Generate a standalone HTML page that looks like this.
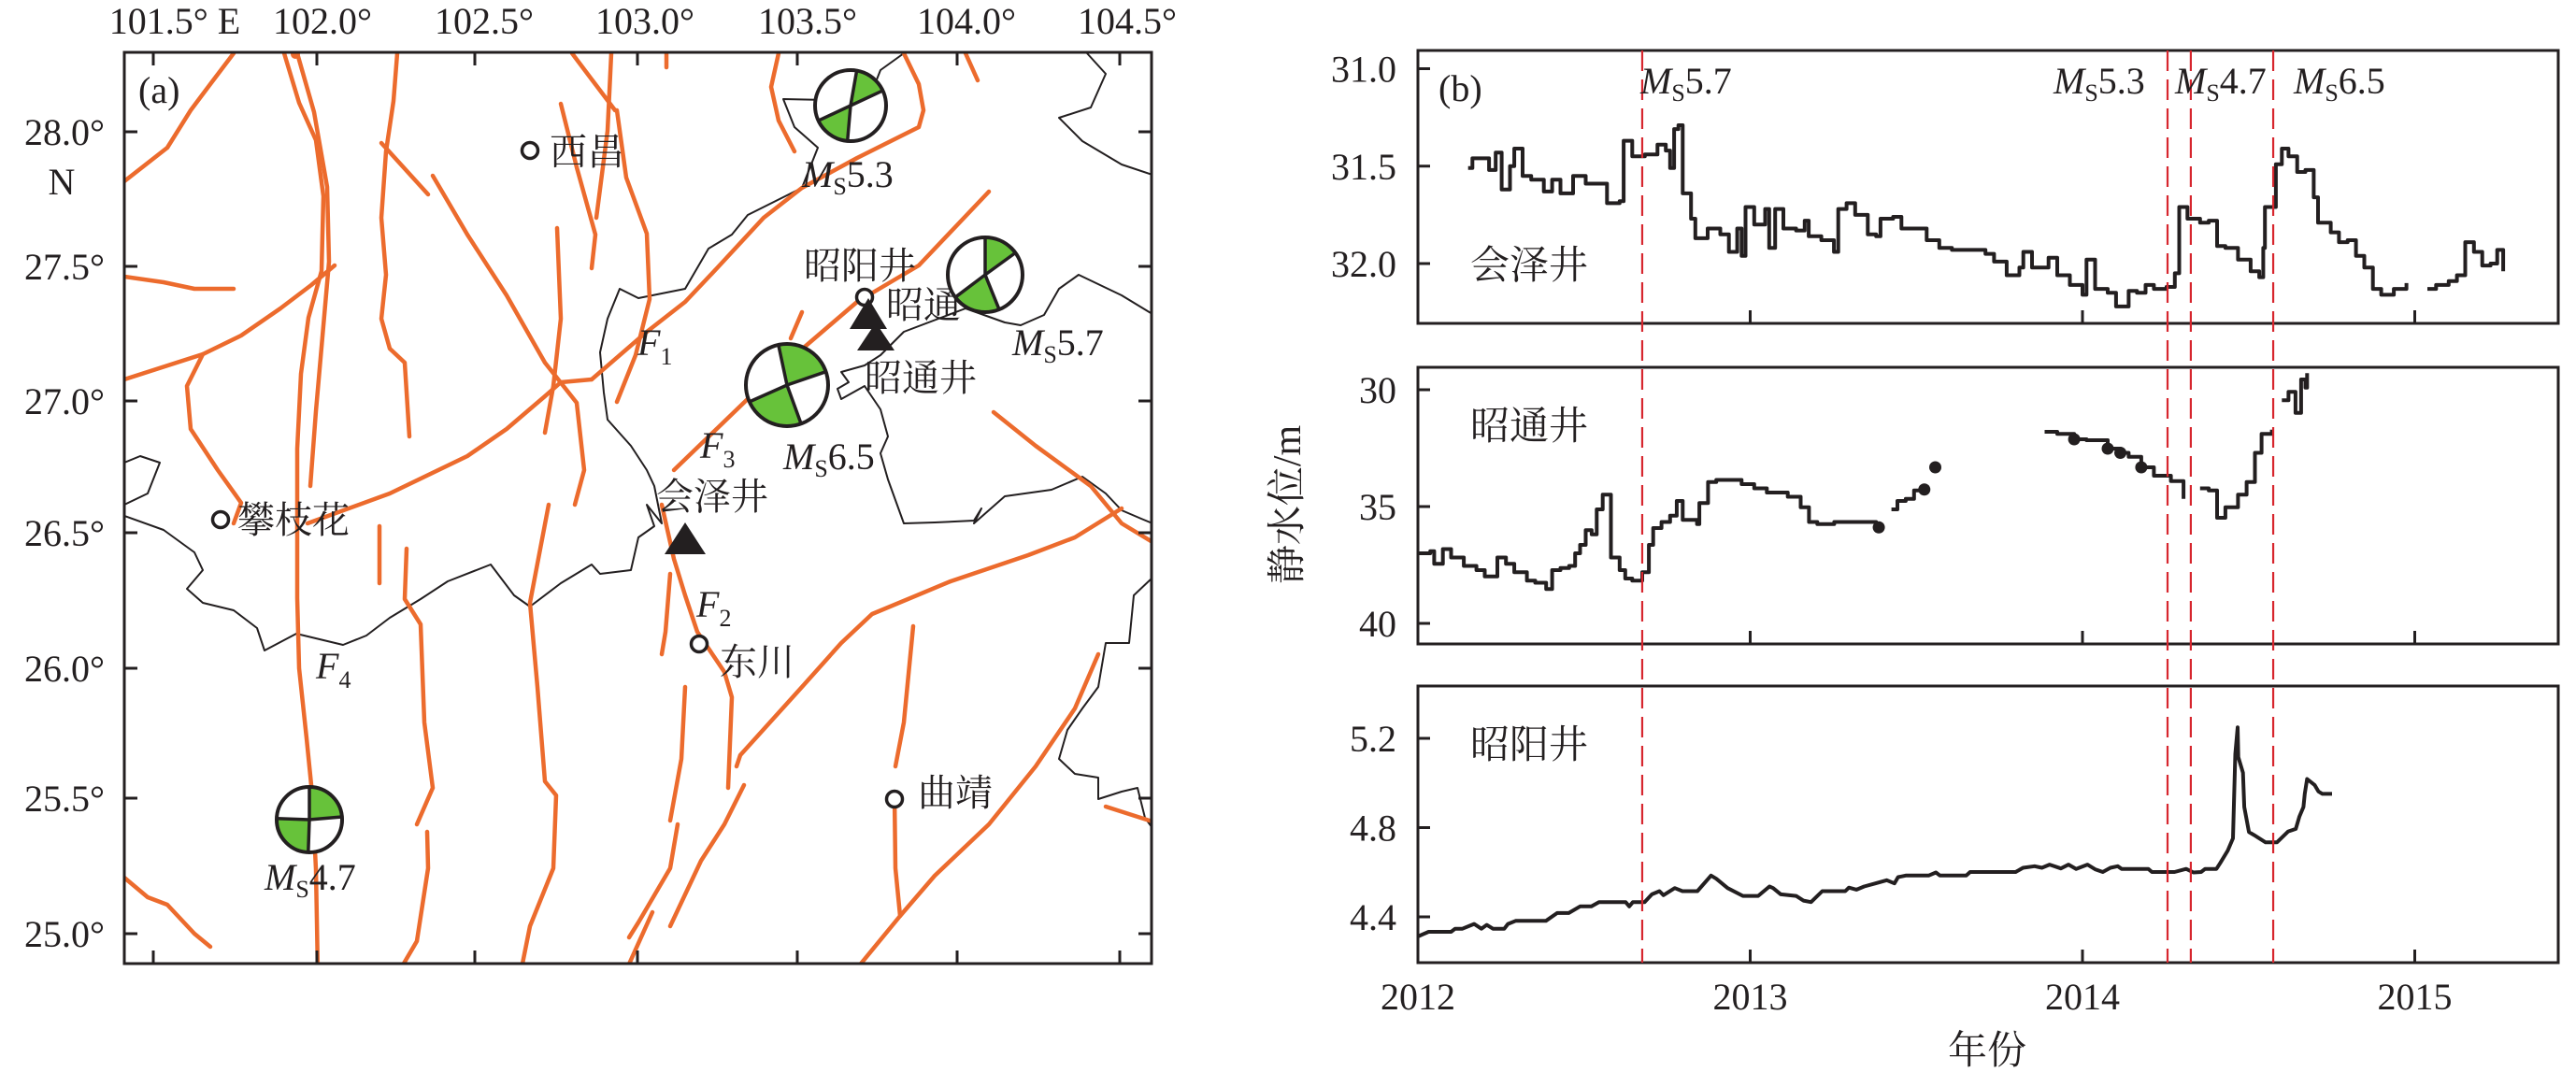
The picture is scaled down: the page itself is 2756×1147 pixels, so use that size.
<!DOCTYPE html>
<html><head><meta charset="utf-8"><style>
html,body{margin:0;padding:0;background:#fff;}
svg{display:block;}
text{font-family:"Liberation Serif","Noto Serif CJK SC",serif;fill:#231f20;}
</style></head><body>
<svg id="fig" width="2756" height="1147" viewBox="0 0 2756 1147" xmlns="http://www.w3.org/2000/svg">
<g id="map"></g>
<g id="chart"></g>
</svg>
<script>
// ===== Panel (b) data =====
const yearTicks = [2012, 2013, 2014, 2015];
const eventYears = [2012.675, 2014.256, 2014.326, 2014.574];
const eventLabels = ["5.7", "5.3", "4.7", "6.5"];
const huizeTicks = [31.0, 31.5, 32.0];
const zhaotongTicks = [30, 35, 40];
const zhaoyangTicks = [5.2, 4.8, 4.4];
// [year offset from 2012, value]; null = gap
const huizeData = [[.151,31.51],[.164,31.46],[.201,31.46],[.214,31.52],[.234,31.43],[.252,31.62],[.277,31.50],[.290,31.41],[.315,31.55],[.341,31.57],[.379,31.63],[.404,31.57],[.429,31.64],[.467,31.55],[.505,31.59],[.543,31.59],[.569,31.69],[.607,31.68],[.619,31.37],[.645,31.45],[.683,31.44],[.721,31.39],[.746,31.42],[.759,31.51],[.771,31.31],[.784,31.29],[.797,31.64],[.822,31.77],[.835,31.87],[.872,31.82],[.910,31.85],[.936,31.94],[.961,31.82],[.974,31.96],[.986,31.71],[1.012,31.80],[1.045,31.72],[1.057,31.92],[1.075,31.72],[1.100,31.82],[1.138,31.83],[1.164,31.78],[1.176,31.86],[1.214,31.88],[1.252,31.94],[1.265,31.72],[1.290,31.69],[1.316,31.75],[1.354,31.85],[1.379,31.86],[1.392,31.77],[1.430,31.76],[1.455,31.82],[1.493,31.82],[1.531,31.88],[1.569,31.92],[1.607,31.93],[1.658,31.93],[1.708,31.95],[1.734,31.99],[1.772,32.06],[1.810,32.02],[1.822,31.94],[1.848,32.02],[1.873,32.02],[1.898,31.97],[1.924,32.06],[1.962,32.11],[2.000,32.16],[2.012,31.98],[2.038,32.13],[2.076,32.15],[2.101,32.22],[2.139,32.14],[2.164,32.15],[2.190,32.11],[2.215,32.13],[2.253,32.12],[2.278,32.05],[2.291,31.71],[2.316,31.77],[2.354,31.79],[2.380,31.78],[2.405,31.91],[2.430,31.92],[2.468,31.98],[2.506,32.04],[2.532,32.07],[2.544,31.92],[2.549,31.71],[2.570,31.71],[2.582,31.49],[2.600,31.41],[2.620,31.45],[2.646,31.53],[2.671,31.52],[2.696,31.66],[2.709,31.79],[2.747,31.84],[2.772,31.89],[2.798,31.88],[2.823,31.96],[2.848,32.02],[2.874,32.13],[2.899,32.16],[2.937,32.13],[2.975,32.10],null,[3.038,32.13],[3.064,32.11],[3.102,32.09],[3.127,32.06],[3.152,31.89],[3.178,31.94],[3.203,32.01],[3.228,32.00],[3.248,31.93],[3.266,32.04]];
const zhaotongData = [[0,37.00],[.037,36.91],[.049,37.45],[.075,36.82],[.100,37.18],[.138,37.54],[.176,37.72],[.201,37.99],[.239,37.18],[.265,37.45],[.290,37.81],[.328,38.17],[.353,38.26],[.386,38.53],[.404,37.72],[.429,37.63],[.455,37.54],[.473,37.00],[.488,36.64],[.505,36.01],[.523,36.19],[.538,35.12],[.556,34.49],[.574,34.49],[.581,37.18],[.607,37.72],[.624,38.08],[.645,38.17],[.675,37.81],[.695,36.64],[.708,35.92],[.733,35.66],[.759,35.39],[.779,34.76],[.797,35.57],[.822,35.57],[.840,35.75],[.847,34.85],[.873,33.95],[.898,33.86],[.936,33.86],[.974,34.04],[1.012,34.22],[1.050,34.40],[1.113,34.58],[1.152,35.03],[1.177,35.66],[1.202,35.75],[1.253,35.66],[1.303,35.66],[1.354,35.66],[1.379,35.83],[1.387,35.89],null,[1.425,35.12],[1.443,34.76],[1.468,34.67],[1.493,34.31],[1.524,34.27],null,[1.886,31.80],[1.924,31.89],[1.975,32.12],[2.012,32.16],[2.076,32.52],[2.114,32.70],[2.139,32.87],[2.177,33.32],[2.215,33.68],[2.266,33.91],[2.304,34.67],null,[2.354,34.22],[2.380,34.31],[2.405,35.48],[2.430,35.03],[2.468,34.49],[2.494,33.95],[2.519,32.70],[2.539,31.89],[2.570,31.71],null,[2.600,30.45],[2.620,30.09],[2.641,30.99],[2.658,29.56],[2.671,29.91],[2.676,29.29]];
const zhaotongDots = [[1.387,35.89],[1.524,34.27],[1.557,33.32],[1.975,32.12],[2.076,32.52],[2.114,32.70],[2.177,33.32]];
const zhaoyangData = [[0,4.312],[.032,4.333],[.100,4.333],[.112,4.347],[.134,4.347],[.169,4.368],[.191,4.347],[.207,4.364],[.226,4.347],[.260,4.347],[.271,4.368],[.294,4.382],[.385,4.382],[.419,4.417],[.454,4.417],[.488,4.447],[.522,4.447],[.545,4.466],[.625,4.466],[.636,4.447],[.647,4.466],[.682,4.466],[.704,4.501],[.727,4.515],[.739,4.497],[.773,4.529],[.796,4.515],[.841,4.515],[.882,4.585],[.898,4.571],[.932,4.529],[.978,4.494],[1.024,4.494],[1.058,4.536],[1.069,4.529],[1.092,4.501],[1.138,4.494],[1.160,4.473],[1.183,4.466],[1.217,4.515],[1.286,4.515],[1.297,4.531],[1.320,4.522],[1.343,4.536],[1.377,4.550],[1.411,4.564],[1.434,4.550],[1.445,4.578],[1.468,4.585],[1.537,4.585],[1.559,4.599],[1.571,4.585],[1.650,4.585],[1.662,4.601],[1.799,4.601],[1.821,4.620],[1.856,4.627],[1.878,4.620],[1.901,4.634],[1.935,4.617],[1.958,4.634],[1.981,4.615],[2.015,4.634],[2.038,4.613],[2.061,4.601],[2.084,4.620],[2.106,4.627],[2.118,4.615],[2.198,4.615],[2.209,4.601],[2.277,4.601],[2.312,4.615],[2.334,4.599],[2.357,4.601],[2.369,4.615],[2.403,4.615],[2.414,4.640],[2.437,4.697],[2.453,4.752],[2.460,5.130],[2.467,5.249],[2.469,5.116],[2.483,5.046],[2.487,4.892],[2.501,4.780],[2.517,4.766],[2.551,4.734],[2.585,4.734],[2.619,4.783],[2.642,4.794],[2.653,4.850],[2.665,4.892],[2.669,4.951],[2.676,5.018],[2.699,4.990],[2.710,4.962],[2.722,4.951],[2.751,4.951]];

const NS = "http://www.w3.org/2000/svg";
function mk(parent, tag, attrs, text) {
  const e = document.createElementNS(NS, tag);
  for (const k in attrs) e.setAttribute(k, attrs[k]);
  if (text !== undefined) e.textContent = text;
  parent.appendChild(e);
  return e;
}
const chart = document.getElementById('chart');
const X0 = 1517, X1 = 2737, YW = 355.5;
const xOf = y => X0 + (y - 2012) * YW;
const xOfOff = t => X0 + t * YW;
const panels = [
  {name:'huize', top:54, bot:346, ticks:huizeTicks, yOf:v => 73.5 + (v - 31) * 208.5, fmt:v => v.toFixed(1), label:'会泽井', ly:298, data:huizeData, step:true},
  {name:'zhaotong', top:393, bot:689, ticks:zhaotongTicks, yOf:v => 417 + (v - 30) * 25, fmt:v => String(v), label:'昭通井', ly:470, data:zhaotongData, step:true},
  {name:'zhaoyang', top:734, bot:1030, ticks:zhaoyangTicks, yOf:v => 790 + (5.2 - v) * 238.75, fmt:v => v.toFixed(1), label:'昭阳井', ly:811, data:zhaoyangData, step:false}
];
panels.forEach((p, pi) => {
  const g = mk(chart, 'g', {});
  
  
  const fr = mk(g, 'rect', {x:X0, y:p.top, width:X1 - X0, height:p.bot - p.top, fill:'none', stroke:'#231f20', 'stroke-width':3});
  
  
  p.ticks.forEach(v => {
    const y = p.yOf(v);
    const t = mk(g, 'line', {x1:X0, x2:X0 + 13, y1:y, y2:y, stroke:'#231f20', 'stroke-width':3});
    
    
    const l = mk(g, 'text', {x:1494, y:y + 14, 'font-size':40, 'text-anchor':'end'}, p.fmt(v));
    
    
  });
  yearTicks.forEach(yr => {
    if (yr === 2012) return;
    const x = xOf(yr);
    const t = mk(g, 'line', {x1:x, x2:x, y1:p.bot, y2:p.bot - 14, stroke:'#231f20', 'stroke-width':3});
    
    
  });
  const wl = mk(g, 'text', {x:1573, y:p.ly, 'font-size':42}, p.label);
  
  
  // series
  let d = '', prev = null;
  p.data.forEach(pt => {
    if (!pt) { prev = null; return; }
    const x = xOfOff(pt[0]), y = p.yOf(pt[1]);
    if (!prev) d += 'M' + x.toFixed(1) + ' ' + y.toFixed(1);
    else if (p.step) d += 'H' + x.toFixed(1) + 'V' + y.toFixed(1);
    else d += 'L' + x.toFixed(1) + ' ' + y.toFixed(1);
    prev = pt;
  });
  const s = mk(g, 'path', {d:d, fill:'none', stroke:'#231f20', 'stroke-width':4, 'stroke-linejoin':'round'});
  
  
});
zhaotongDots.forEach(pt => {
  const c = mk(chart, 'circle', {cx:xOfOff(pt[0]), cy:panels[1].yOf(pt[1]), r:6.5, fill:'#231f20'});
  
  
});
eventYears.forEach((yr, i) => {
  const x = xOf(yr);
  const l = mk(chart, 'line', {x1:x, x2:x, y1:54, y2:1030, stroke:'#d7262e', 'stroke-width':2.2, 'stroke-dasharray':'22 9'});
  
  
});
const evX = [1755, 2197, 2327, 2454];
eventLabels.forEach((lab, i) => {
  const t = mk(chart, 'text', {x:evX[i], y:100, 'font-size':40});
  
  
  mk(t, 'tspan', {'font-style':'italic'}, 'M');
  mk(t, 'tspan', {'font-size':26, dy:8}, 'S');
  mk(t, 'tspan', {dy:-8}, lab);
});
yearTicks.forEach(yr => {
  const t = mk(chart, 'text', {x:xOf(yr), y:1080, 'font-size':40, 'text-anchor':'middle'}, String(yr));
  
  
});
let tt = mk(chart, 'text', {x:2126, y:1138, 'font-size':42, 'text-anchor':'middle'}, '年份');


tt = mk(chart, 'text', {x:1377, y:540, 'font-size':42, 'text-anchor':'middle', transform:'rotate(-90 1377 540)', dy:14}, '静水位/m');


tt = mk(chart, 'text', {x:1539, y:108, 'font-size':40}, '(b)');



// ===== Map (a) =====
const map = document.getElementById('map');
const ML = 133, MR = 1232, MT = 56, MB = 1031;
const faults = [
 "250,57 225,90 204,118 179,158 133,194",
 "133,296 175,302 208,309 250,309",
 "133,406 217,379 258,359 300,330 333,305 358,284",
 "217,379 200,413 204,459 233,503 258,538 250,560",
 "304,57 320,110 338,150 346,210 344,290 330,340 322,400 318,480 318,560 318,640 320,715 328,790 334,850 338,930 340,1040",
 "318,57 336,120 350,200 352,280 345,360 338,440 332,520",
 "425,57 421,108 413,162 408,233 413,294 408,341 417,373 433,388 438,467",
 "406,563 406,624",
 "435,587 433,641 450,668 454,773 463,843 446,882",
 "457,890 458,929 446,1007 429,1036",
 "408,153 458,208",
 "463,188 500,251 542,316 583,388 617,431 625,503 615,540",
 "587,540 567,645 575,735 583,836 595,851 592,929 567,991 558,1036",
 "596,244 600,341 592,413 583,463",
 "612,57 658,118", "600,111 617,179 637,251 633,287",
 "654,57 650,140 638,233",
 "660,118 670,190 692,250 695,320 680,380 660,430",
 "329,560 417,528 500,488 542,459 583,424 600,409 633,406",
 "633,406 692,355 733,323 767,287 817,233 858,201 917,169 983,136 988,118 983,90 967,57",
 "833,57 825,93 833,129 850,162",
 "713,57 713,72",
 "721,503 833,395 917,323 983,284 1058,205",
 "858,334 846,362",
 "1033,57 1046,86",
 "1063,441 1108,477 1167,520 1200,560 1233,580",
 "1200,544 1150,575 1100,594 1017,622 933,657 900,688 858,735 792,808 788,820",
 "708,540 721,598 733,637 746,676 775,719 783,746 779,843",
 "717,614 712,676 708,700",
 "733,735 729,812 717,878",
 "725,882 717,929 683,987 673,1003",
 "796,840 775,882 750,921 717,991",
 "698,976 671,1036",
 "977,670 967,773 958,820",
 "957,851 958,929 963,980 917,1036",
 "1175,700 1150,758 1108,820 1058,882 1000,937 963,980",
 "1183,863 1233,879",
 "133,939 158,960 179,968 208,999 225,1013"
];
const borders = [
 "967,57 942,75 929,108 838,106 850,136 875,158 858,201 800,230 783,251 758,266 733,309 683,319 663,309 650,341 642,377 646,420 650,449 675,477 692,503 700,520 708,560 692,540 700,563 683,575 675,610 642,614 633,604 600,624 567,649 550,637 525,604 479,622 450,641 417,661 392,680 367,690 317,678 283,696 275,672 250,653 217,645 200,630 217,610 208,591 175,567 133,552",
 "133,495 150,488 171,495 158,528 133,540",
 "1163,57 1183,79 1167,115 1133,126 1158,151 1200,176 1233,187",
 "1233,336 1200,316 1154,294 1133,309 1117,337 1092,348 1075,345 1033,330 967,355 942,380 925,391 900,398 908,409 896,416 900,427 925,413 942,438 950,467 942,485 950,513 967,560 1000,559 1042,557 1050,544 1042,560 1075,531 1125,524 1158,510 1183,528 1200,546 1221,555 1233,560",
 "1233,618 1213,637 1208,688 1183,688 1175,735 1158,758 1142,781 1133,812 1150,828 1175,832 1175,855 1200,847 1217,843 1225,875 1233,886"
];
const cp = mk(map, 'clipPath', {id:'mclip'});
mk(cp, 'rect', {x:ML, y:MT, width:MR - ML, height:MB - MT});
const mg = mk(map, 'g', {'clip-path':'url(#mclip)'});
borders.forEach(b => {
  const e = mk(mg, 'polyline', {points:b, fill:'none', stroke:'#231f20', 'stroke-width':2, 'stroke-linejoin':'round'});
  
  
});
faults.forEach(f => {
  const e = mk(mg, 'polyline', {points:f, fill:'none', stroke:'#ec6b2d', 'stroke-width':4.5, 'stroke-linejoin':'round', 'stroke-linecap':'round'});
  
  
});
mk(mg, 'circle', {cx:316, cy:58, r:5, fill:'#ec6b2d'});
let fr = mk(map, 'rect', {x:ML, y:MT, width:MR - ML, height:MB - MT, fill:'none', stroke:'#231f20', 'stroke-width':3});


const lonX = [164, 339, 508, 682, 853, 1024, 1198];
const lonLab = ['101.5° E', '102.0°', '102.5°', '103.0°', '103.5°', '104.0°', '104.5°'];
const lonLX = [187, 345, 518, 690, 864, 1034, 1206];
lonX.forEach((x, i) => {
  mk(map, 'line', {x1:x, x2:x, y1:MT, y2:MT + 14, stroke:'#231f20', 'stroke-width':3});
  mk(map, 'line', {x1:x, x2:x, y1:MB, y2:MB - 14, stroke:'#231f20', 'stroke-width':3});
  const t = mk(map, 'text', {x:lonLX[i], y:36, 'font-size':40, 'text-anchor':'middle'}, lonLab[i]);
  
  
});
const latY = [141, 285, 429, 570, 715, 854, 999];
const latLab = ['28.0°', '27.5°', '27.0°', '26.5°', '26.0°', '25.5°', '25.0°'];
latY.forEach((y, i) => {
  mk(map, 'line', {x1:ML, x2:ML + 14, y1:y, y2:y, stroke:'#231f20', 'stroke-width':3});
  mk(map, 'line', {x1:MR, x2:MR - 14, y1:y, y2:y, stroke:'#231f20', 'stroke-width':3});
  const t = mk(map, 'text', {x:69, y:y + 14, 'font-size':40, 'text-anchor':'middle'}, latLab[i]);
  
  
});
tt = mk(map, 'text', {x:66, y:208, 'font-size':40, 'text-anchor':'middle'}, 'N');


tt = mk(map, 'text', {x:148, y:110, 'font-size':40}, '(a)');



// towns
const towns = [[567,161,'西昌',588,176],[925,318,'昭阳井',860,298],[236,556,'攀枝花',254,570],[748,689,'东川',770,722],[957,855,'曲靖',982,862]];
towns.forEach(tw => {
  const c = mk(map, 'circle', {cx:tw[0], cy:tw[1], r:8.5, fill:'#fff', stroke:'#231f20', 'stroke-width':3.5});
  
  
  const t = mk(map, 'text', {x:tw[3], y:tw[4], 'font-size':40}, tw[2]);
  
  
});
[['昭通',948,340],['昭通井',925,418],['会泽井',702,545]].forEach(l => {
  const t = mk(map, 'text', {x:l[1], y:l[2], 'font-size':40}, l[0]);
  
  
});
[[733,559,22,34],[929,319,20,33],[937,345,20,30]].forEach(tr => {
  const p = mk(map, 'polygon', {points:`${tr[0]},${tr[1]} ${tr[0]+tr[2]},${tr[1]+tr[3]} ${tr[0]-tr[2]},${tr[1]+tr[3]}`, fill:'#231f20'});
  
  
});
[['1',682,380],['3',749,490],['2',745,660],['4',338,726]].forEach(f => {
  const t = mk(map, 'text', {x:f[1], y:f[2], 'font-size':40});
  
  
  mk(t, 'tspan', {'font-style':'italic'}, 'F');
  mk(t, 'tspan', {'font-size':26, dy:10}, f[0]);
});
// beachballs: cx, cy, r, line A angles, line B angles, green sectors, label
const balls = [
  {c:[910,113], r:38, A:[-80,95], B:[-25,155], g:[[-80,-25],[95,155]], lab:'5.3', lx:858, ly:200},
  {c:[1054,294], r:40, A:[-90,68], B:[-36,143], g:[[-90,-36],[68,143]], lab:'5.7', lx:1083, ly:380},
  {c:[842,412], r:44, A:[-102,70], B:[-19,156], g:[[-102,-19],[70,156]], lab:'6.5', lx:838, ly:502},
  {c:[331,877], r:35, A:[-90,92], B:[-5,182], g:[[-90,-5],[92,182]], lab:'4.7', lx:283, ly:952}
];
const pt = (b, a) => [b.c[0] + b.r * Math.cos(a * Math.PI / 180), b.c[1] + b.r * Math.sin(a * Math.PI / 180)];
balls.forEach(b => {
  const g = mk(map, 'g', {});
  
  
  mk(g, 'circle', {cx:b.c[0], cy:b.c[1], r:b.r, fill:'#fff'});
  b.g.forEach(s => {
    const p1 = pt(b, s[0]), p2 = pt(b, s[1]);
    const large = (s[1] - s[0]) > 180 ? 1 : 0;
    mk(g, 'path', {d:`M${b.c[0]} ${b.c[1]}L${p1[0]} ${p1[1]}A${b.r} ${b.r} 0 ${large} 1 ${p2[0]} ${p2[1]}Z`, fill:'#67c23a'});
  });
  [b.A, b.B].forEach(l => {
    const p1 = pt(b, l[0]), p2 = pt(b, l[1]);
    mk(g, 'polyline', {points:`${p1[0]},${p1[1]} ${b.c[0]},${b.c[1]} ${p2[0]},${p2[1]}`, fill:'none', stroke:'#231f20', 'stroke-width':3.5});
  });
  mk(g, 'circle', {cx:b.c[0], cy:b.c[1], r:b.r, fill:'none', stroke:'#231f20', 'stroke-width':4});
  const t = mk(map, 'text', {x:b.lx, y:b.ly, 'font-size':40});
  
  
  mk(t, 'tspan', {'font-style':'italic'}, 'M');
  mk(t, 'tspan', {'font-size':26, dy:8}, 'S');
  mk(t, 'tspan', {dy:-8}, b.lab);
});
</script>
</body></html>
